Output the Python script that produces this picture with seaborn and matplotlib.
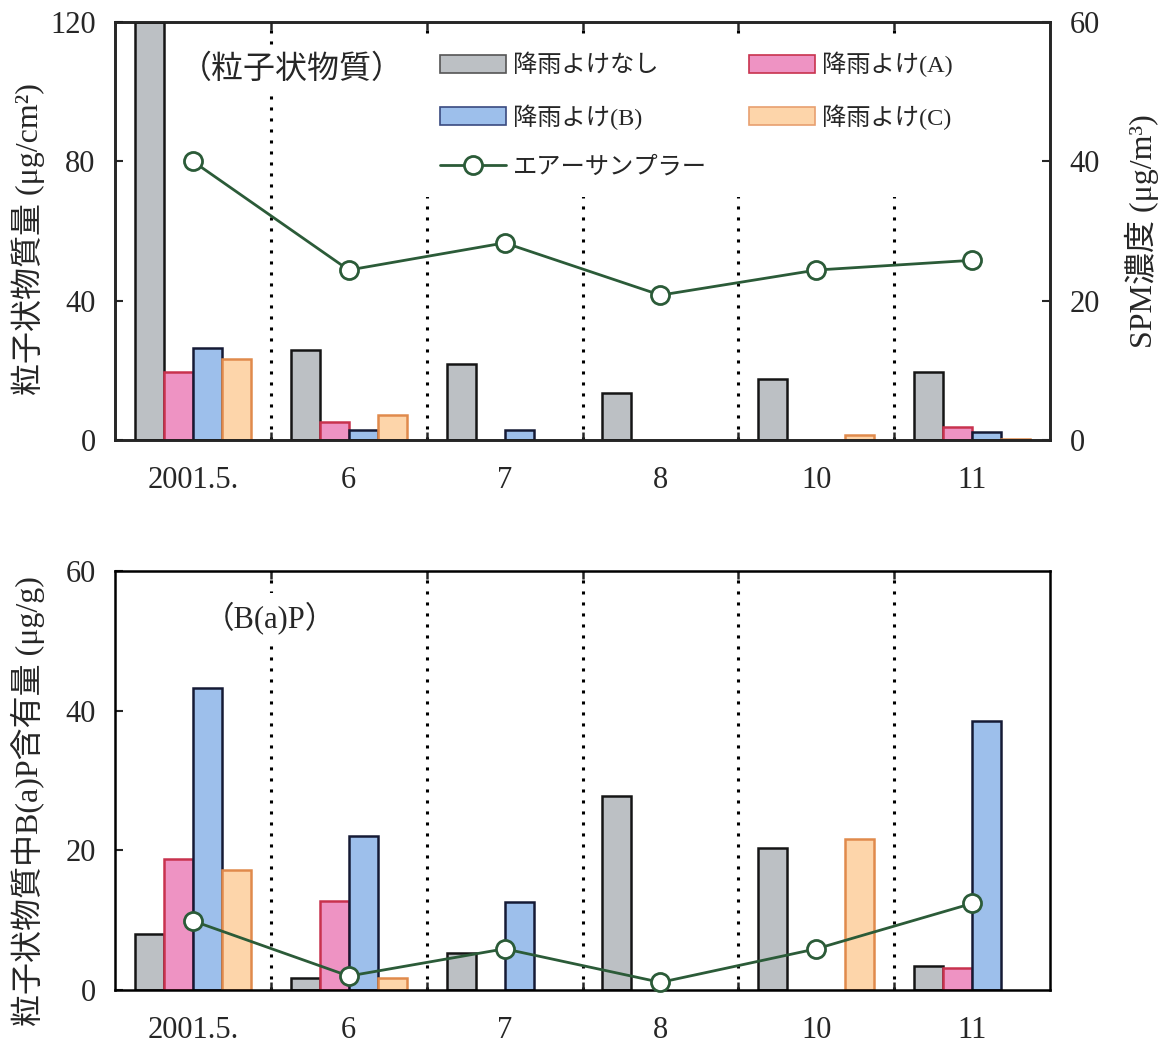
import numpy as np
import pandas as pd
import matplotlib
matplotlib.use('Agg')
import matplotlib.pyplot as plt
import seaborn as sns
from matplotlib.patches import Patch
from matplotlib.lines import Line2D

# ---------------- data ----------------
categories = ['2001.5.', '6', '7', '8', '10', '11']
series = ['降雨よけなし', '降雨よけ(A)', '降雨よけ(B)', '降雨よけ(C)']
line_label = 'エアーサンプラー'

# top panel: particulate mass (μg/cm²)
pm_none = [120.0, 25.8, 21.8, 13.4, 17.5, 19.6]
pm_a = [19.5, 5.2, 0.0, 0.0, 0.0, 3.8]
pm_b = [26.4, 2.9, 2.9, 0.0, 0.0, 2.2]
pm_c = [23.2, 7.2, 0.0, 0.0, 1.5, 0.3]
spm_air = [40.0, 24.4, 28.3, 20.8, 24.4, 25.8]   # right axis (μg/m³)

# bottom panel: B(a)P content (μg/g)
bap_none = [8.0, 1.7, 5.3, 27.8, 20.3, 3.4]
bap_a = [18.8, 12.7, 0.0, 0.0, 0.0, 3.1]
bap_b = [43.2, 22.0, 12.6, 0.0, 0.0, 38.5]
bap_c = [17.2, 1.7, 0.0, 0.0, 21.6, 0.0]
bap_air = [9.9, 2.0, 5.9, 1.1, 5.9, 12.4]

top_yticks = [0, 40, 80, 120]
right_yticks = [0, 20, 40, 60]
bottom_yticks = [0, 20, 40, 60]

# ---------------- style ----------------
sns.set_style('ticks')
plt.rcParams['font.family'] = ['Liberation Serif', 'Noto Sans CJK JP']
plt.rcParams['axes.linewidth'] = 1.8

face = ['#bcc0c4', '#ee93c3', '#9dbfeb', '#fdd5aa']
edge = ['#151515', '#c8324e', '#151a35', '#e08a4c']
line_color = '#2b5b38'

fig = plt.figure(figsize=(11.63, 10.44), dpi=100)
ax_top = fig.add_axes([0.0989, 0.5785, 0.8040, 0.4004])
ax_bot = fig.add_axes([0.0989, 0.0517, 0.8040, 0.4014])


def draw_bars(ax, values):
    df = pd.DataFrame({
        'cat': categories * len(series),
        'series': np.repeat(series, len(categories)),
        'val': np.concatenate(values),
    })
    sns.barplot(data=df, x='cat', y='val', hue='series', order=categories,
                hue_order=series, palette=face, width=0.745, gap=0,
                saturation=1, linewidth=1.8, edgecolor='black',
                errorbar=None, legend=False, ax=ax, zorder=2)
    for i, cont in enumerate(ax.containers):
        for bar in cont:
            bar.set_edgecolor(edge[i])
            if bar.get_height() == 0:
                bar.set_linewidth(0)
    bounds = np.arange(len(categories) - 1) + 0.5
    for b in bounds:
        ax.axvline(b, color='black', ls=(0, (1.0, 2.6)), lw=2.2, zorder=0.5)
    ax.set_xlim(-0.5, len(categories) - 0.5)
    ax.set_xticks(range(len(categories)))
    ax.set_xticklabels(categories)
    ax.set_xticks(bounds, minor=True)
    ax.tick_params(axis='x', which='major', length=0, labelsize=22, pad=19)
    ax.tick_params(axis='x', which='minor', direction='in', length=6,
                   width=1.8, top=True, bottom=True)
    ax.tick_params(axis='y', direction='in', length=6, width=1.5,
                   labelsize=22, pad=14)
    ax.set_xlabel('')
    for s in ax.spines.values():
        s.set_visible(True)
        s.set_linewidth(1.8)
        s.set_color('black')


def draw_line(ax, values):
    df = pd.DataFrame({'pos': np.arange(len(categories)), 'val': values})
    sns.lineplot(data=df, x='pos', y='val', ax=ax, color=line_color, lw=2.0,
                 marker='o', markersize=13, markerfacecolor='white',
                 markeredgecolor=line_color, markeredgewidth=2.0, zorder=5,
                 clip_on=False)
    ax.set_xlabel('')


# ---------------- top panel ----------------
draw_bars(ax_top, [pm_none, pm_a, pm_b, pm_c])
ax_top.set_ylim(0, 120)
ax_top.set_yticks(top_yticks)
ax_top.set_ylabel('粒子状物質量 (μg/cm²)', fontsize=23)
ax_top.yaxis.set_label_coords(-0.075, 0.48)

ax_r = ax_top.twinx()
draw_line(ax_r, spm_air)
ax_r.set_ylim(0, 60)
ax_r.set_yticks(right_yticks)
ax_r.tick_params(axis='y', direction='in', length=6, width=1.5,
                 labelsize=22, pad=14)
ax_r.set_ylabel('SPM濃度 (μg/m³)', fontsize=23)
ax_r.yaxis.set_label_coords(1.08, 0.5)
ax_r.set_xlim(-0.5, len(categories) - 0.5)

ax_r.text(0.189, 0.885, '（粒子状物質）', transform=ax_r.transAxes,
          ha='center', va='center', fontsize=23, zorder=6,
          bbox=dict(fc='white', ec='none', pad=7))

handles = [
    Patch(facecolor=face[0], edgecolor='#555555', lw=1.2),
    Patch(facecolor=face[2], edgecolor='#3a4a80', lw=1.2),
    Line2D([], [], color=line_color, lw=2.0, marker='o', markersize=13,
           markerfacecolor='white', markeredgecolor=line_color,
           markeredgewidth=2.0),
    Patch(facecolor=face[1], edgecolor='#c8324e', lw=1.2),
    Patch(facecolor=face[3], edgecolor='#e8a070', lw=1.2),
]
labels = [series[0], series[2], line_label, series[1], series[3]]
leg = ax_r.legend(handles, labels, ncol=2, loc='upper left',
                  bbox_to_anchor=(0.328, 0.972), fontsize=17.5,
                  handlelength=2.7, handleheight=0.8, handletextpad=0.3,
                  columnspacing=1.75, labelspacing=1.1, frameon=True,
                  framealpha=1, facecolor='white', edgecolor='none',
                  borderpad=0.75, borderaxespad=0, fancybox=False)
leg.set_zorder(10)

# ---------------- bottom panel ----------------
draw_bars(ax_bot, [bap_none, bap_a, bap_b, bap_c])
draw_line(ax_bot, bap_air)
ax_bot.set_ylim(0, 60)
ax_bot.set_yticks(bottom_yticks)
ax_bot.set_xlim(-0.5, len(categories) - 0.5)
ax_bot.set_ylabel('粒子状物質中B(a)P含有量 (μg/g)', fontsize=23)
ax_bot.yaxis.set_label_coords(-0.075, 0.45)
ax_bot.text(0.166, 0.888, '（B(a)P）', transform=ax_bot.transAxes,
            ha='center', va='center', fontsize=22, zorder=6,
            bbox=dict(fc='white', ec='none', pad=6))

fig.savefig('out.png', dpi=100)
